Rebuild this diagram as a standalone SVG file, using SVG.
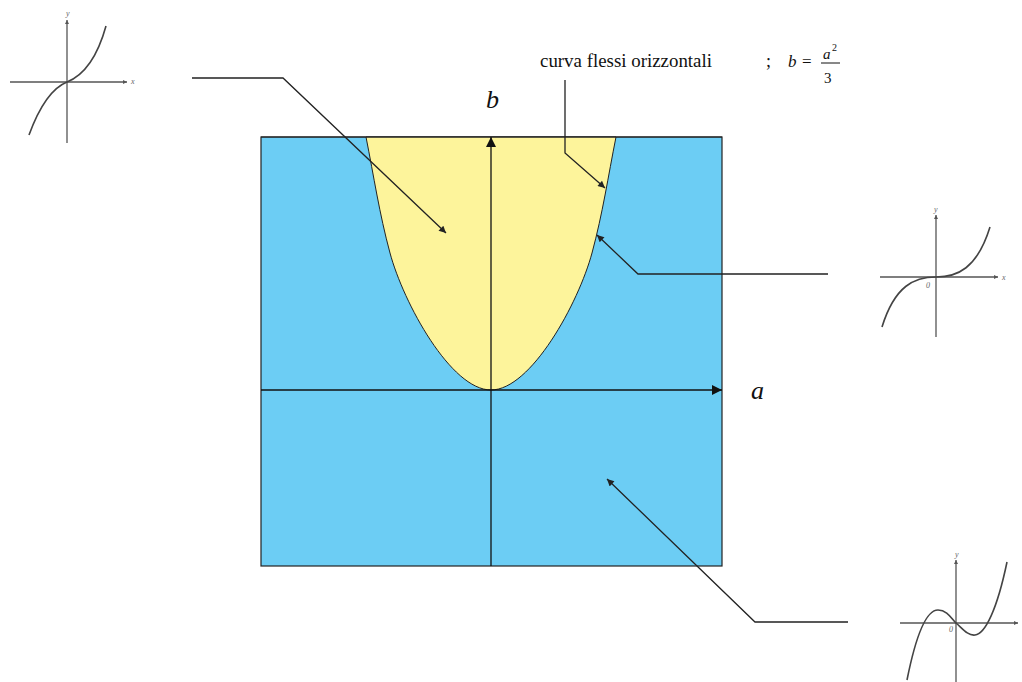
<svg xmlns="http://www.w3.org/2000/svg" width="1022" height="682" viewBox="0 0 1022 682">
<defs>
<style>
.ax{stroke:#111;stroke-width:1.3;fill:none}
.cn{stroke:#222;stroke-width:1.3;fill:none}
.mg{stroke:#444;stroke-width:1.6;fill:none}
.ma{stroke:#555;stroke-width:1.3;fill:none}
.lbl{font-family:'Liberation Serif','Times New Roman',serif;fill:#111}
.sm{font-family:'Liberation Serif',serif;fill:#666;font-size:8px;font-style:italic}
</style>
<marker id="big" viewBox="0 0 10 10" refX="10" refY="5" markerWidth="18" markerHeight="10" markerUnits="userSpaceOnUse" orient="auto"><path d="M0,0 L10,5 L0,10 Z" fill="#111"/></marker>
<marker id="sml" viewBox="0 0 10 10" refX="10" refY="5" markerWidth="12" markerHeight="7" markerUnits="userSpaceOnUse" orient="auto"><path d="M0,0 L10,5 L0,10 Z" fill="#222"/></marker>
<marker id="tiny" viewBox="0 0 10 10" refX="10" refY="5" markerWidth="6" markerHeight="4" markerUnits="userSpaceOnUse" orient="auto"><path d="M0,0 L10,5 L0,10 Z" fill="#555"/></marker>
</defs>
<rect width="1022" height="682" fill="#fff"/>

<g id="plane">
<rect x="261" y="137" width="461" height="429" fill="#6ccdf4" stroke="#222" stroke-width="1.2"/>
<path d="M366,137 C374,177 379.2,213 390,253 C403.5,303 451,390 491,390 C531,390 578.5,303 592,253 C602.8,213 608,177 616,137 Z" fill="#fdf49b" stroke="#222" stroke-width="1" stroke-linejoin="round"/>
<line x1="261" y1="137" x2="722" y2="137" stroke="#222" stroke-width="1.2"/>
<line class="ax" x1="491" y1="566" x2="491" y2="137" marker-end="url(#big)"/>
<line class="ax" x1="261" y1="390" x2="722" y2="390" marker-end="url(#big)"/>
<text class="lbl" x="486" y="108" font-size="26" font-style="italic">b</text>
<text class="lbl" x="751" y="399" font-size="26" font-style="italic">a</text>
</g>

<g id="label-curve">
<text class="lbl" x="540" y="67" font-size="18" textLength="172" lengthAdjust="spacingAndGlyphs">curva flessi orizzontali</text>
<text class="lbl" x="766" y="67" font-size="18">;</text>
<text class="lbl" x="788" y="67" font-size="17" font-style="italic">b</text>
<text class="lbl" x="802" y="67" font-size="17">=</text>
<text class="lbl" x="823" y="59" font-size="15" font-style="italic">a</text>
<text class="lbl" x="832" y="51" font-size="10">2</text>
<line x1="821" y1="63" x2="840" y2="63" stroke="#111" stroke-width="1"/>
<text class="lbl" x="824" y="83" font-size="15">3</text>
</g>

<g id="graph-tl">
<line class="ma" x1="67" y1="143" x2="67" y2="20" marker-end="url(#tiny)"/>
<line class="ma" x1="10" y1="82" x2="127" y2="82" marker-end="url(#tiny)"/>
<path class="mg" d="M29,135 C40,105 52,88 67,82 C82,76 96,62 106,26"/>
<text class="sm" x="66" y="16">y</text>
<text class="sm" x="131" y="84">x</text>
</g>

<g id="graph-mr">
<line class="ma" x1="936" y1="337" x2="936" y2="215" marker-end="url(#tiny)"/>
<line class="ma" x1="880" y1="277" x2="998" y2="277" marker-end="url(#tiny)"/>
<path class="mg" d="M882,327 C895,285 915,277 936,277 C957,277 977,269 990,227"/>
<text class="sm" x="934" y="212">y</text>
<text class="sm" x="1002" y="280">x</text>
<text class="sm" x="926" y="288">0</text>
</g>

<g id="graph-br">
<line class="ma" x1="956" y1="682" x2="956" y2="560" marker-end="url(#tiny)"/>
<line class="ma" x1="900" y1="623" x2="1018" y2="623" marker-end="url(#tiny)"/>
<path class="mg" d="M907,680 C915,640 925,610 938,610 C948,610 952,620 956,623 C962,628 968,636 975,635 C985,634 997,610 1007,562"/>
<text class="sm" x="955" y="557">y</text>
<text class="sm" x="949" y="632">0</text>
</g>

<g id="connectors">
<polyline class="cn" points="192,78 283,78 446,233" marker-end="url(#sml)"/>
<polyline class="cn" points="565,80 565,153 605,188" marker-end="url(#sml)"/>
<polyline class="cn" points="828,274 638,274 597,235" marker-end="url(#sml)"/>
<polyline class="cn" points="848,622 755,622 607,479" marker-end="url(#sml)"/>
</g>
</svg>
